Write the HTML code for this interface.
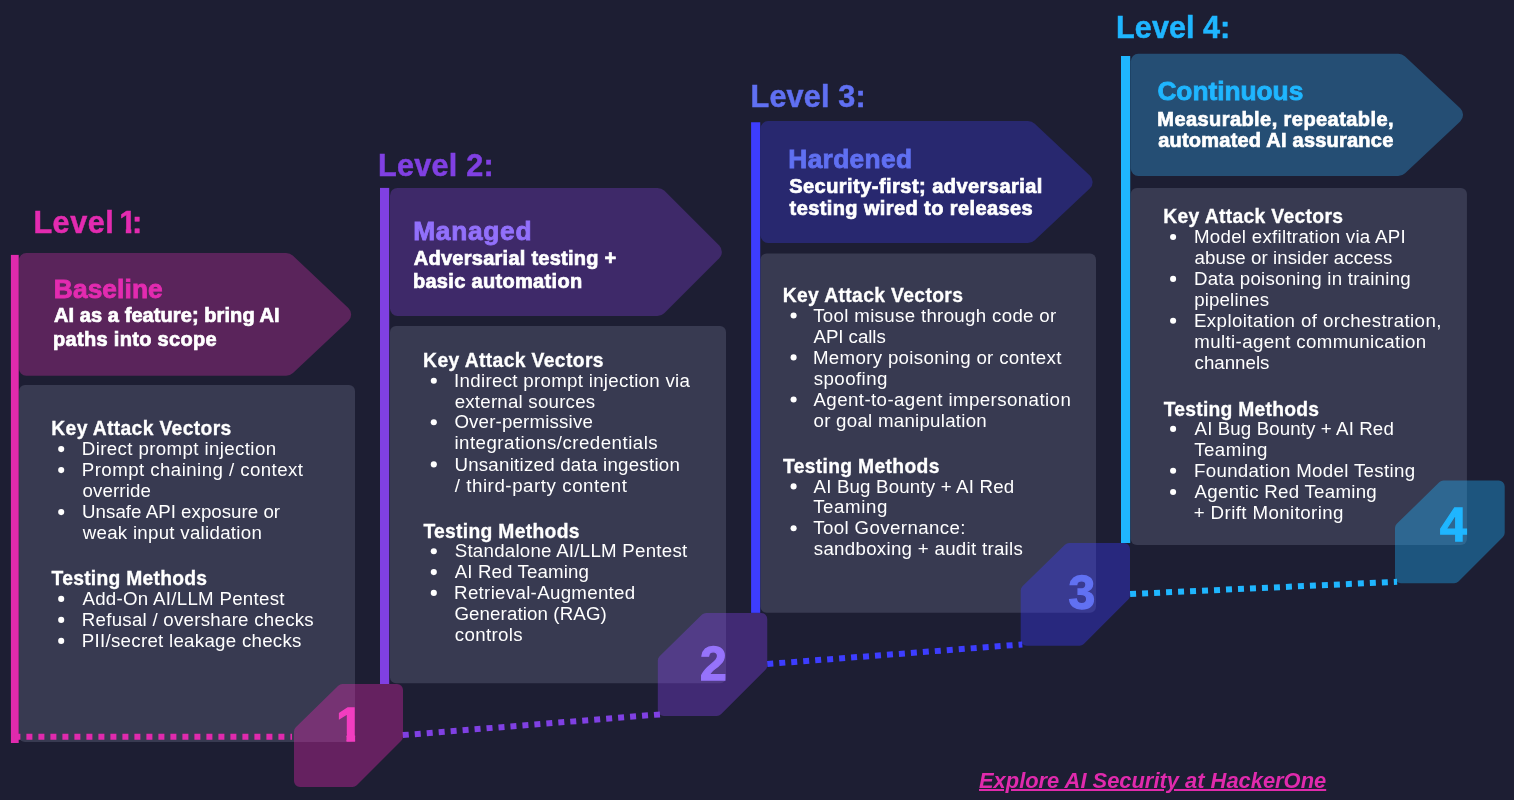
<!DOCTYPE html>
<html lang="en"><head><meta charset="utf-8"><title>AI Security Maturity Levels</title>
<style>
html,body{margin:0;padding:0;background:#1d1e33;}
body{width:1514px;height:800px;position:relative;overflow:hidden;font-family:"Liberation Sans",Arial,sans-serif;color:#fff;}
svg.art{position:absolute;left:0;top:0;}
.txt{position:absolute;left:0;top:0;width:1514px;height:800px;will-change:transform;}
.level,.hdr,.panel,ul,li,p,footer{position:static;margin:0;padding:0;list-style:none;display:block;}
.t{position:absolute;display:block;white-space:pre;margin:0;padding:0;}
.lvl{font-weight:bold;font-size:30.6px;-webkit-text-stroke:0.5px currentColor;}
.ttl{font-weight:bold;font-size:26.3px;-webkit-text-stroke:0.85px currentColor;}
.sub{font-weight:bold;font-size:20.0px;-webkit-text-stroke:0.7px currentColor;}
.hd{font-weight:bold;font-size:19.3px;-webkit-text-stroke:0.3px currentColor;}
.li{font-weight:normal;font-size:18.7px;}
.dg{font-weight:bold;font-size:48.0px;-webkit-text-stroke:1.3px currentColor;}
.link{font-weight:bold;font-style:italic;font-size:22.0px;color:#e02aad;text-decoration:underline;text-decoration-thickness:1.7px;text-underline-offset:1.3px;}
</style></head>
<body>
<svg class="art" width="1514" height="800" viewBox="0 0 1514 800">
<path d="M18.80 260.60 A7.5 7.5 0 0 1 26.30 253.10 L286.13 253.10 A10 10 0 0 1 292.99 255.82 L348.33 307.90 A9 9 0 0 1 348.33 321.00 L292.99 373.08 A10 10 0 0 1 286.13 375.80 L26.30 375.80 A7.5 7.5 0 0 1 18.80 368.30 Z" fill="#5a245b"/>
<path d="M390.00 195.40 A7.5 7.5 0 0 1 397.50 187.90 L657.46 187.90 A10 10 0 0 1 664.53 190.83 L719.24 245.59 A9 9 0 0 1 719.24 258.31 L664.53 313.07 A10 10 0 0 1 657.46 316.00 L397.50 316.00 A7.5 7.5 0 0 1 390.00 308.50 Z" fill="#3e2969"/>
<path d="M760.60 128.50 A7.5 7.5 0 0 1 768.10 121.00 L1027.94 121.00 A10 10 0 0 1 1034.79 123.71 L1089.82 175.44 A9 9 0 0 1 1089.82 188.56 L1034.79 240.29 A10 10 0 0 1 1027.94 243.00 L768.10 243.00 A7.5 7.5 0 0 1 760.60 235.50 Z" fill="#28286f"/>
<path d="M1130.80 61.25 A7.5 7.5 0 0 1 1138.30 53.75 L1398.24 53.75 A10 10 0 0 1 1405.09 56.46 L1460.22 108.27 A9 9 0 0 1 1460.22 121.38 L1405.09 173.19 A10 10 0 0 1 1398.24 175.90 L1138.30 175.90 A7.5 7.5 0 0 1 1130.80 168.40 Z" fill="#254e74"/>
<rect x="19.0" y="384.9" width="336.0" height="357.1" rx="6" fill="#383a51"/>
<rect x="390.0" y="326.0" width="336.0" height="357.3" rx="6" fill="#383a51"/>
<rect x="760.5" y="253.4" width="335.5" height="359.4" rx="6" fill="#383a51"/>
<rect x="1130.75" y="188.1" width="336.2" height="356.8" rx="6" fill="#383a51"/>
<rect x="10.9" y="254.9" width="7.8" height="488.1" fill="#e02aad"/>
<rect x="380.0" y="187.9" width="9.2" height="496.1" fill="#8040e3"/>
<rect x="751.1" y="122.25" width="9.1" height="490.6" fill="#3d3dff"/>
<rect x="1121.0" y="56.0" width="9.2" height="487.0" fill="#1fb6ff"/>
<line x1="14.4" y1="736.8" x2="292.0" y2="736.8" stroke="#e02aad" stroke-width="6" stroke-dasharray="6 6"/>
<line x1="402.8" y1="735.1" x2="660.0" y2="714.4" stroke="#8040e3" stroke-width="6" stroke-dasharray="6 6"/>
<line x1="767.3" y1="664.0" x2="1022.3" y2="644.4" stroke="#3d3dff" stroke-width="6" stroke-dasharray="6 6"/>
<line x1="1130.1" y1="594.0" x2="1397.1" y2="581.8" stroke="#1fb6ff" stroke-width="6" stroke-dasharray="6 6"/>
<path d="M338.25 685.71 A6 6 0 0 1 342.45 684.00 L397.00 684.00 A6 6 0 0 1 403.00 690.00 L403.00 736.51 A6 6 0 0 1 401.24 740.76 L356.76 785.24 A6 6 0 0 1 352.51 787.00 L300.00 787.00 A6 6 0 0 1 294.00 781.00 L294.00 731.52 A6 6 0 0 1 295.80 727.23 Z" fill="rgba(224,42,173,0.37)"/>
<path d="M702.05 614.61 A6 6 0 0 1 706.25 612.90 L761.25 612.90 A6 6 0 0 1 767.25 618.90 L767.25 665.51 A6 6 0 0 1 765.49 669.76 L721.01 714.24 A6 6 0 0 1 716.76 716.00 L663.80 716.00 A6 6 0 0 1 657.80 710.00 L657.80 660.42 A6 6 0 0 1 659.60 656.13 Z" fill="rgba(128,64,227,0.37)"/>
<path d="M1064.95 544.71 A6 6 0 0 1 1069.15 543.00 L1124.00 543.00 A6 6 0 0 1 1130.00 549.00 L1130.00 595.31 A6 6 0 0 1 1128.24 599.56 L1083.76 644.04 A6 6 0 0 1 1079.51 645.80 L1026.70 645.80 A6 6 0 0 1 1020.70 639.80 L1020.70 590.52 A6 6 0 0 1 1022.50 586.23 Z" fill="rgba(61,61,255,0.37)"/>
<path d="M1439.25 482.31 A6 6 0 0 1 1443.45 480.60 L1498.70 480.60 A6 6 0 0 1 1504.70 486.60 L1504.70 532.71 A6 6 0 0 1 1502.94 536.96 L1458.46 581.44 A6 6 0 0 1 1454.21 583.20 L1401.00 583.20 A6 6 0 0 1 1395.00 577.20 L1395.00 528.12 A6 6 0 0 1 1396.80 523.83 Z" fill="rgba(31,182,255,0.37)"/>
<circle cx="61.2" cy="449.1" r="3.05" fill="#fff"/>
<circle cx="61.2" cy="470.1" r="3.05" fill="#fff"/>
<circle cx="61.2" cy="512.1" r="3.05" fill="#fff"/>
<circle cx="61.2" cy="598.9" r="3.05" fill="#fff"/>
<circle cx="61.2" cy="619.9" r="3.05" fill="#fff"/>
<circle cx="61.2" cy="640.9" r="3.05" fill="#fff"/>
<circle cx="433.8" cy="380.8" r="3.05" fill="#fff"/>
<circle cx="433.8" cy="422.3" r="3.05" fill="#fff"/>
<circle cx="433.8" cy="464.4" r="3.05" fill="#fff"/>
<circle cx="433.8" cy="551.3" r="3.05" fill="#fff"/>
<circle cx="433.8" cy="572.1" r="3.05" fill="#fff"/>
<circle cx="433.8" cy="592.9" r="3.05" fill="#fff"/>
<circle cx="793.6" cy="315.5" r="3.05" fill="#fff"/>
<circle cx="793.6" cy="357.4" r="3.05" fill="#fff"/>
<circle cx="793.6" cy="399.5" r="3.05" fill="#fff"/>
<circle cx="793.6" cy="486.4" r="3.05" fill="#fff"/>
<circle cx="793.6" cy="528.2" r="3.05" fill="#fff"/>
<circle cx="1173.1" cy="237.0" r="3.05" fill="#fff"/>
<circle cx="1173.1" cy="278.9" r="3.05" fill="#fff"/>
<circle cx="1173.1" cy="320.8" r="3.05" fill="#fff"/>
<circle cx="1173.1" cy="428.9" r="3.05" fill="#fff"/>
<circle cx="1173.1" cy="470.8" r="3.05" fill="#fff"/>
<circle cx="1173.1" cy="492.0" r="3.05" fill="#fff"/>
</svg>
<main class="txt">
<section class="level" id="level-1-baseline">
<h2 class="t lvl" style="left:33.4px;top:204px;line-height:37px;letter-spacing:0.53px;color:#e32bb0;">Level <span style="display:inline-block;margin-left:-4.0px;margin-right:-4.9px;clip-path:polygon(-3px 0,12.0px 0,12.0px 100%,6.5px 100%,6.5px 24.7px,-3px 24.7px);">1</span>:</h2>
<header class="hdr">
<h3 class="t ttl" style="left:53.8px;top:273px;line-height:32px;letter-spacing:0.11px;color:#e32bb0;">Baseline</h3>
<p><span class="t sub" style="left:54.0px;top:303px;line-height:24px;letter-spacing:0.08px;">AI as a feature; bring AI</span><span class="t sub" style="left:53.1px;top:327px;line-height:24px;letter-spacing:0.31px;">paths into scope</span></p>
</header>
<div class="panel">
<h4 class="t hd" style="left:51.3px;top:417px;line-height:23px;letter-spacing:0.35px;">Key Attack Vectors</h4>
<ul>
<li><span class="t li" style="left:81.8px;top:438px;line-height:22px;letter-spacing:0.38px;">Direct prompt injection</span>
</li>
<li><span class="t li" style="left:81.8px;top:459px;line-height:22px;letter-spacing:0.43px;">Prompt chaining / context</span>
<span class="t li" style="left:82.4px;top:480px;line-height:22px;letter-spacing:0.15px;">override</span>
</li>
<li><span class="t li" style="left:82.1px;top:501px;line-height:22px;letter-spacing:0.03px;">Unsafe API exposure or</span>
<span class="t li" style="left:82.7px;top:522px;line-height:22px;letter-spacing:0.28px;">weak input validation</span>
</li>
</ul>
<h4 class="t hd" style="left:51.6px;top:567px;line-height:23px;letter-spacing:0.26px;">Testing Methods</h4>
<ul>
<li><span class="t li" style="left:82.4px;top:588px;line-height:22px;letter-spacing:0.29px;">Add-On AI/LLM Pentest</span>
</li>
<li><span class="t li" style="left:81.8px;top:609px;line-height:22px;letter-spacing:0.26px;">Refusal / overshare checks</span>
</li>
<li><span class="t li" style="left:81.8px;top:630px;line-height:22px;letter-spacing:0.28px;">PII/secret leakage checks</span>
</li>
</ul>
</div>
<div class="t dg" style="left:336.3px;top:696px;line-height:58px;color:#f23dc0;clip-path:polygon(-5px 0,18.8px 0,18.8px 100%,10.2px 100%,10.2px 38.1px,-5px 38.1px);">1</div>
</section>
<section class="level" id="level-2-managed">
<h2 class="t lvl" style="left:378.0px;top:147px;line-height:37px;letter-spacing:0.26px;color:#8040e3;">Level 2:</h2>
<header class="hdr">
<h3 class="t ttl" style="left:413.2px;top:215px;line-height:32px;letter-spacing:0.73px;color:#9270fb;">Managed</h3>
<p><span class="t sub" style="left:413.8px;top:246px;line-height:24px;letter-spacing:0.26px;">Adversarial testing +</span><span class="t sub" style="left:412.9px;top:269px;line-height:24px;letter-spacing:0.32px;">basic automation</span></p>
</header>
<div class="panel">
<h4 class="t hd" style="left:423.1px;top:349px;line-height:23px;letter-spacing:0.38px;">Key Attack Vectors</h4>
<ul>
<li><span class="t li" style="left:454.1px;top:370px;line-height:22px;letter-spacing:0.30px;">Indirect prompt injection via</span>
<span class="t li" style="left:454.7px;top:391px;line-height:22px;letter-spacing:0.22px;">external sources</span>
</li>
<li><span class="t li" style="left:454.4px;top:411px;line-height:22px;letter-spacing:0.17px;">Over-permissive</span>
<span class="t li" style="left:454.4px;top:432px;line-height:22px;letter-spacing:0.48px;">integrations/credentials</span>
</li>
<li><span class="t li" style="left:454.4px;top:454px;line-height:22px;letter-spacing:0.25px;">Unsanitized data ingestion</span>
<span class="t li" style="left:454.7px;top:475px;line-height:22px;letter-spacing:0.56px;">/ third-party content</span>
</li>
</ul>
<h4 class="t hd" style="left:423.4px;top:520px;line-height:23px;letter-spacing:0.31px;">Testing Methods</h4>
<ul>
<li><span class="t li" style="left:454.7px;top:540px;line-height:22px;letter-spacing:0.25px;">Standalone AI/LLM Pentest</span>
</li>
<li><span class="t li" style="left:454.7px;top:561px;line-height:22px;letter-spacing:0.12px;">AI Red Teaming</span>
</li>
<li><span class="t li" style="left:454.1px;top:582px;line-height:22px;letter-spacing:0.31px;">Retrieval-Augmented</span>
<span class="t li" style="left:454.4px;top:603px;line-height:22px;letter-spacing:0.12px;">Generation (RAG)</span>
<span class="t li" style="left:454.7px;top:624px;line-height:22px;letter-spacing:0.36px;">controls</span>
</li>
</ul>
</div>
<div class="t dg" style="left:699.9px;top:635px;line-height:58px;color:#9673fb;">2</div>
</section>
<section class="level" id="level-3-hardened">
<h2 class="t lvl" style="left:750.6px;top:78px;line-height:37px;letter-spacing:0.16px;color:#6070f2;">Level 3:</h2>
<header class="hdr">
<h3 class="t ttl" style="left:788.3px;top:143px;line-height:32px;letter-spacing:0.34px;color:#6070f2;">Hardened</h3>
<p><span class="t sub" style="left:789.2px;top:174px;line-height:24px;letter-spacing:0.46px;">Security-first; adversarial</span><span class="t sub" style="left:789.6px;top:196px;line-height:24px;letter-spacing:0.40px;">testing wired to releases</span></p>
</header>
<div class="panel">
<h4 class="t hd" style="left:782.7px;top:284px;line-height:23px;letter-spacing:0.37px;">Key Attack Vectors</h4>
<ul>
<li><span class="t li" style="left:813.2px;top:305px;line-height:22px;letter-spacing:0.32px;">Tool misuse through code or</span>
<span class="t li" style="left:813.5px;top:326px;line-height:22px;letter-spacing:-0.05px;">API calls</span>
</li>
<li><span class="t li" style="left:812.9px;top:347px;line-height:22px;letter-spacing:0.33px;">Memory poisoning or context</span>
<span class="t li" style="left:813.8px;top:368px;line-height:22px;letter-spacing:0.42px;">spoofing</span>
</li>
<li><span class="t li" style="left:813.5px;top:389px;line-height:22px;letter-spacing:0.41px;">Agent-to-agent impersonation</span>
<span class="t li" style="left:813.5px;top:410px;line-height:22px;letter-spacing:0.26px;">or goal manipulation</span>
</li>
</ul>
<h4 class="t hd" style="left:783.0px;top:455px;line-height:23px;letter-spacing:0.33px;">Testing Methods</h4>
<ul>
<li><span class="t li" style="left:813.5px;top:476px;line-height:22px;letter-spacing:0.18px;">AI Bug Bounty + AI Red</span>
<span class="t li" style="left:813.2px;top:496px;line-height:22px;letter-spacing:0.59px;">Teaming</span>
</li>
<li><span class="t li" style="left:813.2px;top:517px;line-height:22px;letter-spacing:0.39px;">Tool Governance:</span>
<span class="t li" style="left:813.8px;top:538px;line-height:22px;letter-spacing:0.29px;">sandboxing + audit trails</span>
</li>
</ul>
</div>
<div class="t dg" style="left:1068.6px;top:564px;line-height:58px;color:#6171f2;">3</div>
</section>
<section class="level" id="level-4-continuous">
<h2 class="t lvl" style="left:1116.1px;top:9px;line-height:37px;letter-spacing:0.04px;color:#1fb6ff;">Level 4:</h2>
<header class="hdr">
<h3 class="t ttl" style="left:1157.4px;top:75px;line-height:32px;letter-spacing:-0.02px;color:#1fb6ff;">Continuous</h3>
<p><span class="t sub" style="left:1157.3px;top:107px;line-height:24px;letter-spacing:0.43px;">Measurable, repeatable,</span><span class="t sub" style="left:1158.2px;top:128px;line-height:24px;letter-spacing:0.22px;">automated AI assurance</span></p>
</header>
<div class="panel">
<h4 class="t hd" style="left:1163.3px;top:205px;line-height:23px;letter-spacing:0.34px;">Key Attack Vectors</h4>
<ul>
<li><span class="t li" style="left:1194.0px;top:226px;line-height:22px;letter-spacing:0.28px;">Model exfiltration via API</span>
<span class="t li" style="left:1194.6px;top:247px;line-height:22px;letter-spacing:0.06px;">abuse or insider access</span>
</li>
<li><span class="t li" style="left:1194.0px;top:268px;line-height:22px;letter-spacing:0.23px;">Data poisoning in training</span>
<span class="t li" style="left:1194.3px;top:289px;line-height:22px;letter-spacing:0.12px;">pipelines</span>
</li>
<li><span class="t li" style="left:1194.0px;top:310px;line-height:22px;letter-spacing:0.40px;">Exploitation of orchestration,</span>
<span class="t li" style="left:1194.3px;top:331px;line-height:22px;letter-spacing:0.36px;">multi-agent communication</span>
<span class="t li" style="left:1194.6px;top:352px;line-height:22px;letter-spacing:0.00px;">channels</span>
</li>
</ul>
<h4 class="t hd" style="left:1163.7px;top:398px;line-height:23px;letter-spacing:0.25px;">Testing Methods</h4>
<ul>
<li><span class="t li" style="left:1194.6px;top:418px;line-height:22px;letter-spacing:0.11px;">AI Bug Bounty + AI Red</span>
<span class="t li" style="left:1194.3px;top:439px;line-height:22px;letter-spacing:0.41px;">Teaming</span>
</li>
<li><span class="t li" style="left:1194.0px;top:460px;line-height:22px;letter-spacing:0.32px;">Foundation Model Testing</span>
</li>
<li><span class="t li" style="left:1194.6px;top:481px;line-height:22px;letter-spacing:0.27px;">Agentic Red Teaming</span>
<span class="t li" style="left:1193.7px;top:502px;line-height:22px;letter-spacing:0.41px;">+ Drift Monitoring</span>
</li>
</ul>
</div>
<div class="t dg" style="left:1439.9px;top:496px;line-height:58px;color:#1fb6ff;">4</div>
</section>
<footer>
<a class="t link" href="#explore" style="left:978.6px;top:768px;line-height:26px;transform:scaleX(0.9951);transform-origin:0 0;">Explore AI Security at HackerOne</a>
</footer>
</main>
</body></html>
